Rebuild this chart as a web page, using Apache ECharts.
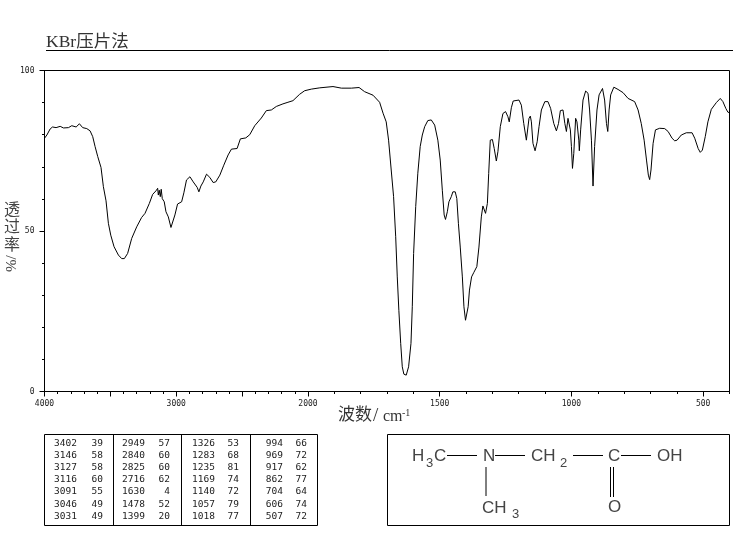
<!DOCTYPE html>
<html><head><meta charset="utf-8">
<style>html,body{margin:0;padding:0;background:#fff}#c{width:737px;height:539px}</style>
<script src="https://cdn.jsdelivr.net/npm/echarts@6/dist/echarts.min.js"></script>
</head><body><div id="c"></div>
<script>
// Spectrum: [wavenumber (cm-1), transmittance (%)]
const spectrum = [
[4000,78.9],[3982,79.9],[3957,81.8],[3939,82.4],[3912,82.2],[3881,82.6],[3856,82.1],[3818,82.2],[3793,82.8],[3760,82.4],[3735,83.4],[3710,82.2],[3679,81.9],[3654,81.2],[3634,79.4],[3616,76.3],[3596,73.2],[3571,69.8],[3553,63.8],[3533,59.4],[3515,52.4],[3497,48.7],[3472,45.1],[3439,42.5],[3414,41.4],[3394,41.4],[3369,43.0],[3338,47.7],[3300,51.3],[3263,54.2],[3237,55.5],[3204,58.6],[3179,61.4],[3154,62.5],[3141,63.3],[3136,61.2],[3129,62.7],[3121,60.7],[3114,63],[3106,60.1],[3091,59.1],[3078,56],[3060,54.4],[3040,51.1],[3030,51.5],[3010,55],[2990,58.4],[2959,59.1],[2942,61.9],[2922,65.9],[2896,66.9],[2871,65.3],[2841,63.6],[2828,62.2],[2813,64],[2795,65.3],[2770,67.7],[2745,66.7],[2720,65.1],[2700,65.3],[2669,67.4],[2639,70.5],[2606,73.7],[2581,75.5],[2538,75.7],[2513,78.7],[2472,79],[2442,80],[2404,82.8],[2354,85.2],[2316,87.5],[2278,87.7],[2240,88.8],[2190,89.6],[2152,90.1],[2114,90.6],[2063,92.6],[2025,93.7],[1987,94.2],[1955,94.6],[1905,95],[1873,94.5],[1835,94.5],[1806,94.7],[1785,93.4],[1753,92.3],[1728,90.1],[1715,86.7],[1703,84],[1694,78.3],[1684,69],[1675,60.7],[1667,48.2],[1661,35.7],[1655,25.3],[1648,15],[1642,7.7],[1636,5.4],[1627,5.1],[1618,7.7],[1609,15],[1604,26.4],[1599,43],[1591,57.6],[1583,68],[1574,76.3],[1566,79.9],[1557,82.5],[1545,84.4],[1532,84.6],[1519,83],[1507,78.3],[1498,72.1],[1490,62.7],[1483,55],[1478,53.6],[1471,56],[1465,59.1],[1456,60.7],[1450,62.2],[1441,62.2],[1435,60.1],[1429,52.4],[1422,45],[1414,35.7],[1408,26.4],[1402,22.2],[1397,22],[1392,26.4],[1387,31.6],[1379,35.7],[1371,37],[1359,38.9],[1351,45],[1342,54.4],[1336,57.8],[1330,57.8],[1326,55.5],[1319,58.6],[1314,67.9],[1308,78.3],[1300,78.5],[1293,75.7],[1285,71.8],[1279,74.7],[1270,82.5],[1260,86.6],[1250,87.2],[1241,85.6],[1236,84],[1228,88.4],[1221,90.5],[1199,90.8],[1190,89.2],[1181,83.5],[1171,78.3],[1167,78.8],[1161,85.1],[1156,85.8],[1152,84],[1146,77.3],[1138,75],[1130,77.8],[1123,82.5],[1114,87.7],[1101,90.3],[1089,90.3],[1079,88.2],[1067,83.5],[1057,81.2],[1049,83.5],[1042,87.5],[1032,87.7],[1025,83.5],[1019,81],[1013,85.1],[1009,85.6],[1004,81.5],[1000,76.3],[996,69.5],[991,74.2],[984,85.1],[979,84],[972,78.3],[970,75],[965,81.5],[956,90.8],[946,93.6],[937,92.9],[931,87.7],[924,78.3],[918,64],[912,76.3],[903,87.7],[895,92.4],[882,94.4],[874,90.8],[867,83.5],[862,81],[857,87.7],[851,92.4],[839,94.8],[823,94.1],[804,93.1],[785,91.3],[760,90.3],[747,87.7],[735,83.5],[724,78.3],[715,72.1],[708,67.4],[703,66],[698,69],[690,77.3],[681,81.5],[665,82],[646,81.9],[633,81],[618,78.9],[608,78.1],[599,78.3],[583,79.9],[564,80.6],[542,80.6],[532,78.9],[519,75.7],[511,74.5],[503,75.2],[492,79.4],[482,84],[469,87.9],[450,90],[435,91.3],[425,90.3],[414,88.2],[406,87],[400,86.9]
];
const xLabelTicks = [4000,3000,2000,1500,1000,500];
const xMajorTicks = [4000,3500,3000,2500,2000,1500,1000,500];
const xMinorTicks = [4000,3900,3800,3700,3600,3500,3400,3300,3200,3100,3000,2900,2800,2700,2600,2500,2400,2300,2200,2100,2000,1900,1800,1700,1600,1500,1400,1300,1200,1100,1000,900,800,700,600,500,400];
const yMajorTicks = [0,50,100];
const peakWave = [
 [3402,3146,3127,3116,3091,3046,3031],
 [2949,2840,2825,2716,1630,1478,1399],
 [1326,1283,1235,1169,1140,1057,1018],
 [994,969,917,862,704,606,507]];
const peakT = [
 [39,58,58,60,55,49,49],
 [57,60,60,62,4,52,20],
 [53,68,81,74,72,79,77],
 [66,72,62,77,64,74,72]];

// Spectrometer scale: 4000-2000 cm-1 drawn at half the scale of 2000-400 cm-1
const toAxis = w => w > 2000 ? 2000 + (w - 2000) / 2 : w;
const fromAxis = v => v > 2000 ? 2000 + (v - 2000) * 2 : v;

const serif = '"Liberation Serif","Noto Sans CJK SC",serif';
const mono = '"DejaVu Sans Mono",monospace';
const cjk = '"Noto Sans CJK SC",sans-serif';
const ink = '#222';

const graphic = [];
const txt = (x,y,text,o={}) => graphic.push({type:'text',x,y,silent:true,rotation:o.rotation||0,
  style:{text,fill:o.fill||ink,font:o.font||('8px '+mono),textAlign:o.align||'left',textVerticalAlign:'middle',lineHeight:o.lineHeight}});
const line = (x1,y1,x2,y2) => graphic.push({type:'line',silent:true,shape:{x1,y1,x2,y2},style:{stroke:'#000',lineWidth:1}});
const rect = (x,y,w,h) => graphic.push({type:'rect',silent:true,shape:{x,y,width:w,height:h},style:{fill:'none',stroke:'#000',lineWidth:1}});

// header
txt(46,42,'KBr压片法',{font:'17.5px '+serif,fill:'#333'});
line(46,50.5,733,50.5);
// y title
txt(4,209,'透',{font:'16px '+cjk,fill:'#444'});
txt(4,226,'过',{font:'16px '+cjk,fill:'#444'});
txt(4,244,'率',{font:'16px '+cjk,fill:'#444'});
graphic.push({type:'text',x:12,y:272,rotation:Math.PI/2,silent:true,style:{text:'%/',fill:'#444',font:'15px '+serif,textAlign:'left',textVerticalAlign:'middle'}});
// x title
txt(338,416,'波数',{font:'17px '+serif,fill:'#333'});
txt(373,416,'/',{font:'19px '+serif,fill:'#333'});
txt(383,417,'cm',{font:'16px '+serif,fill:'#333'});
txt(402,413,'-1',{font:'10px '+serif,fill:'#333'});

// peak table
rect(44.5,434.5,273,91);
[113.5,181.5,250.5].forEach(x=>line(x,434.5,x,525.5));
const rowY = [444,456,468,480,492,505,517];
const waveRight = [77,145,215,283], tRight = [103,170,239,307];
const tableFont = '9.5px '+mono;
peakWave.forEach((col,c)=>col.forEach((w,r)=>{
  txt(waveRight[c],rowY[r],String(w),{align:'right',font:tableFont});
  txt(tRight[c],rowY[r],String(peakT[c][r]),{align:'right',font:tableFont});
}));

// structure box
rect(387.5,434.5,342,91);
const s = '17px "Liberation Sans",sans-serif', sub = '13px "Liberation Sans",sans-serif', g='#444';
txt(412,456,'H',{font:s,fill:g});txt(426,463,'3',{font:sub,fill:g});txt(434,456,'C',{font:s,fill:g});
line(447,455.5,477,455.5);
txt(483,456,'N',{font:s,fill:g});
line(495,455.5,525,455.5);
txt(531,456,'CH',{font:s,fill:g});txt(560,463,'2',{font:sub,fill:g});
line(573,455.5,603,455.5);
txt(608,456,'C',{font:s,fill:g});
line(621,455.5,651,455.5);
txt(657,456,'OH',{font:s,fill:g});
line(486,467,486,496);
txt(482,508,'CH',{font:s,fill:g});txt(512,514,'3',{font:sub,fill:g});
line(610.5,467,610.5,497);line(613.5,467,613.5,497);
txt(608,507,'O',{font:s,fill:g});

const lineStyle = {color:'#000',width:1};
const chart = echarts.init(document.getElementById('c'),null,{renderer:'canvas'});
chart.setOption({
  animation:false,
  backgroundColor:'#fff',
  grid:{left:44.5,right:7.5,top:70.5,bottom:147.5,show:true,borderColor:'#000',borderWidth:1,backgroundColor:'transparent'},
  xAxis:[
   {type:'value',inverse:true,min:400,max:3000,position:'bottom',
    axisLine:{show:true,lineStyle},splitLine:{show:false},
    axisTick:{show:true,length:5,lineStyle,customValues:xMajorTicks.map(toAxis)},
    axisLabel:{show:true,margin:8,color:ink,fontFamily:mono,fontSize:8,
      customValues:xLabelTicks.map(toAxis),formatter:v=>String(fromAxis(v))}},
   {type:'value',inverse:true,min:400,max:3000,position:'bottom',
    axisLine:{show:false},splitLine:{show:false},
    axisTick:{show:true,length:2.5,lineStyle,customValues:xMinorTicks.map(toAxis)},
    axisLabel:{show:false}}
  ],
  yAxis:[
   {type:'value',min:0,max:100,position:'left',
    axisLine:{show:true,lineStyle},splitLine:{show:false},
    axisTick:{show:true,length:5,lineStyle,customValues:yMajorTicks},
    axisLabel:{show:true,margin:10,color:ink,fontFamily:mono,fontSize:8,customValues:yMajorTicks}},
   {type:'value',min:0,max:100,interval:10,position:'left',
    axisLine:{show:false},splitLine:{show:false},
    axisTick:{show:true,length:2.5,lineStyle},axisLabel:{show:false}}
  ],
  series:[{type:'line',xAxisIndex:0,yAxisIndex:0,showSymbol:false,symbol:'none',smooth:false,
    lineStyle:{color:'#000',width:1},data:spectrum.map(p=>[toAxis(p[0]),p[1]])}],
  graphic:{elements:graphic}
});
</script></body></html>
